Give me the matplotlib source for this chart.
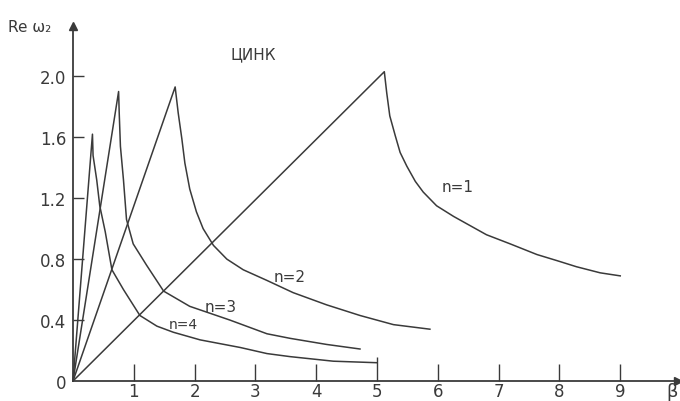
import matplotlib
matplotlib.use("Agg")
import matplotlib.pyplot as plt

# values (beta, Re omega_2)
beta_n1 = [0, 5.12, 5.16, 5.21, 5.30, 5.38, 5.49, 5.63, 5.76, 5.98, 6.26, 6.53,
           6.80, 7.19, 7.63, 7.96, 8.28, 8.67, 9.0]
re_n1 = [0, 2.03, 1.89, 1.74, 1.61, 1.50, 1.41, 1.31, 1.24, 1.15, 1.08, 1.02,
         0.96, 0.90, 0.83, 0.79, 0.75, 0.71, 0.69]

beta_n2 = [0, 1.68, 1.73, 1.79, 1.84, 1.92, 2.03, 2.14, 2.31, 2.53, 2.80, 3.19,
           3.62, 4.17, 4.72, 5.27, 5.87]
re_n2 = [0, 1.93, 1.76, 1.59, 1.43, 1.26, 1.11, 1.00, 0.89, 0.80, 0.73, 0.66,
         0.58, 0.50, 0.43, 0.37, 0.34]

beta_n3 = [0, 0.75, 0.76, 0.78, 0.83, 0.88, 0.99, 1.21, 1.49, 1.92, 2.58, 3.19,
           3.57, 4.17, 4.72]
re_n3 = [0, 1.90, 1.76, 1.54, 1.32, 1.06, 0.90, 0.76, 0.59, 0.49, 0.40, 0.31,
         0.28, 0.24, 0.21]

beta_n4 = [0, 0.32, 0.33, 0.39, 0.44, 0.53, 0.64, 0.83, 1.10, 1.38, 1.65, 2.09,
           2.75, 3.19, 3.57, 4.28, 5.0]
re_n4 = [0, 1.62, 1.48, 1.32, 1.15, 0.98, 0.73, 0.60, 0.43, 0.36, 0.32, 0.27,
         0.22, 0.18, 0.16, 0.13, 0.12]

xticks = [1, 2, 3, 4, 5, 6, 7, 8, 9]
yticks = [0, 0.4, 0.8, 1.2, 1.6, 2.0]
ytick_labels = ["0", "0.4", "0.8", "1.2", "1.6", "2.0"]

ink = "#3a3a3a"

fig = plt.figure(figsize=(6.8, 4.02), dpi=100)
ax = fig.add_axes([73/680, 20/402, 605/680, 355/402])

for b, r in [(beta_n1, re_n1), (beta_n2, re_n2), (beta_n3, re_n3), (beta_n4, re_n4)]:
    ax.plot(b, r, color=ink, lw=1.1, clip_on=False)

ax.set_xlim(0, 9.95)
ax.set_ylim(0, 2.33)

for s in ["top", "right"]:
    ax.spines[s].set_visible(False)
for s in ["left", "bottom"]:
    ax.spines[s].set_color(ink)
    ax.spines[s].set_linewidth(1.3)

# axis arrows
ax.plot(1, 0, ">", color=ink, ms=6, transform=ax.get_yaxis_transform(), clip_on=False)
ax.plot(0, 1, "^", color=ink, ms=6, transform=ax.get_xaxis_transform(), clip_on=False)

ax.set_xticks(xticks)
ax.set_xticklabels([str(t) for t in xticks])
ax.set_yticks(yticks)
ax.set_yticklabels(ytick_labels)
ax.tick_params(axis="x", direction="in", length=12, width=1.0, color=ink,
               labelsize=12, labelcolor=ink, pad=1)
ax.tick_params(axis="y", direction="in", length=8, width=1.0, color=ink,
               labelsize=12, labelcolor=ink, pad=5)
ax.yaxis.get_major_ticks()[0].tick1line.set_visible(False)
ax.xaxis.get_major_ticks()[4].tick1line.set_markersize(17)

ax.text(458/680, (402-188)/402, "n=1", transform=fig.transFigure,
        ha="center", va="center", fontsize=11, color=ink)
ax.text(290/680, (402-278)/402, "n=2", transform=fig.transFigure,
        ha="center", va="center", fontsize=11, color=ink)
ax.text(221/680, (402-308)/402, "n=3", transform=fig.transFigure,
        ha="center", va="center", fontsize=11, color=ink)
ax.text(183/680, (402-325)/402, "n=4", transform=fig.transFigure,
        ha="center", va="center", fontsize=10, color=ink)

fig.text(253/680, (402-55)/402, "ЦИНК", ha="center", va="center",
         fontsize=11, color=ink)
fig.text(8/680, (402-27)/402, "Re ω₂", ha="left", va="center",
         fontsize=11, color=ink)
fig.text(666/680, (402-392)/402, "β", ha="left", va="center",
         fontsize=13, color=ink)

fig.savefig("out.png", dpi=100)
